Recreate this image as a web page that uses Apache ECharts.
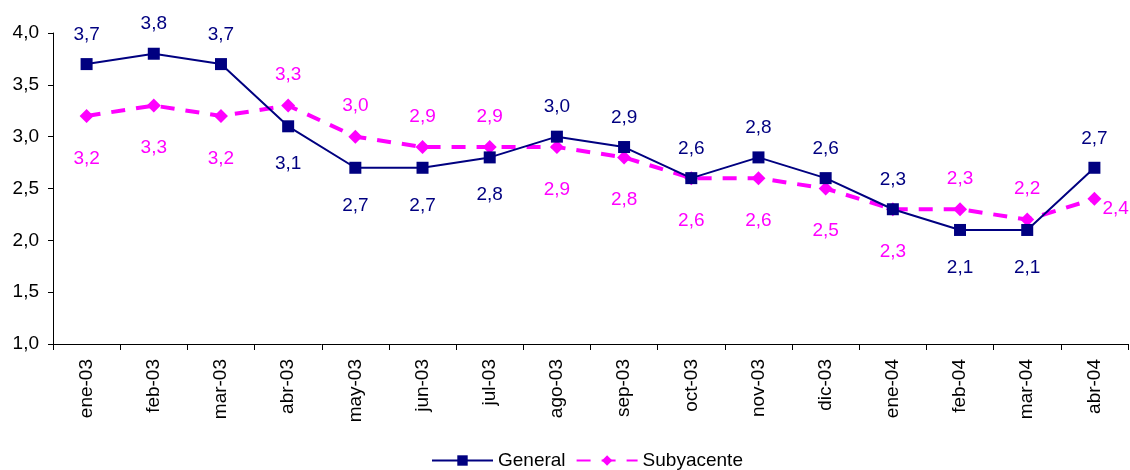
<!DOCTYPE html>
<html>
<head>
<meta charset="utf-8">
<script src="https://cdn.jsdelivr.net/npm/echarts@6/dist/echarts.min.js"></script>
<style>
  html, body { margin: 0; padding: 0; background: #fff; }
  #chart { width: 1130px; height: 470px; }
</style>
</head>
<body>
<div id="chart"></div>
<script>
// datos
const months = ['ene-03', 'feb-03', 'mar-03', 'abr-03', 'may-03', 'jun-03', 'jul-03', 'ago-03',
  'sep-03', 'oct-03', 'nov-03', 'dic-03', 'ene-04', 'feb-04', 'mar-04', 'abr-04']
const general = [3.7, 3.8, 3.7, 3.1, 2.7, 2.7, 2.8, 3.0, 2.9, 2.6, 2.8, 2.6, 2.3, 2.1, 2.1, 2.7]
const subyacente = [3.2, 3.3, 3.2, 3.3, 3.0, 2.9, 2.9, 2.9, 2.8, 2.6, 2.6, 2.5, 2.3, 2.3, 2.2, 2.4]

const fmt = v => v.toFixed(1).replace('.', ',')

// etiqueta arriba o abajo segun cual serie va mas alta
function labelFor(isGeneral, i) {
  const up = general[i] >= subyacente[i]
  if (!isGeneral && i === months.length - 1) {
    return { position: 'right', distance: 1, offset: [0, 10] }
  }
  const top = isGeneral ? up : !up
  return top ? { position: 'top', distance: 14 }
             : { position: 'bottom', distance: isGeneral ? 22 : 26 }
}

const chart = echarts.init(document.getElementById('chart'))
const font = 'Liberation Sans, Arial, sans-serif'

chart.setOption({
  animation: false,
  textStyle: { fontFamily: font },
  grid: { left: 53, right: 2, top: 33, bottom: 126 },
  legend: {
    top: 446,
    left: 426,
    itemWidth: 61,
    itemHeight: 13,
    itemGap: 10,
    textStyle: { fontSize: 19, color: '#000', fontFamily: font },
    data: ['General', 'Subyacente']
  },
  xAxis: {
    type: 'category',
    data: months,
    boundaryGap: true,
    axisLine: { lineStyle: { color: '#000', width: 1 } },
    axisTick: { show: true, length: 6, lineStyle: { color: '#000' } },
    axisLabel: { rotate: 90, fontSize: 19, color: '#000', margin: 15, fontFamily: font }
  },
  yAxis: {
    type: 'value',
    min: 1,
    max: 4,
    interval: 0.5,
    splitLine: { show: false },
    axisLine: { show: true, lineStyle: { color: '#000', width: 1 } },
    axisTick: { show: true, length: 5, lineStyle: { color: '#000' } },
    axisLabel: { fontSize: 19, color: '#000', margin: 14, formatter: v => fmt(v), fontFamily: font }
  },
  series: [
    {
      name: 'General',
      type: 'line',
      data: general.map((v, i) => ({ value: v, label: labelFor(true, i) })),
      symbol: 'rect',
      symbolSize: 12,
      itemStyle: { color: '#000080' },
      lineStyle: { color: '#000080', width: 2 },
      label: { show: true, fontSize: 19, color: '#000080', formatter: p => fmt(p.value), fontFamily: font },
      z: 3
    },
    {
      name: 'Subyacente',
      type: 'line',
      data: subyacente.map((v, i) => ({ value: v, label: labelFor(false, i) })),
      symbol: 'diamond',
      symbolSize: 14,
      itemStyle: { color: '#ff00ff' },
      lineStyle: { color: '#ff00ff', width: 4, type: [14, 11] },
      label: { show: true, fontSize: 19, color: '#ff00ff', formatter: p => fmt(p.value), fontFamily: font },
      z: 2
    }
  ]
})

window.addEventListener('resize', () => chart.resize())
</script>
</body>
</html>
